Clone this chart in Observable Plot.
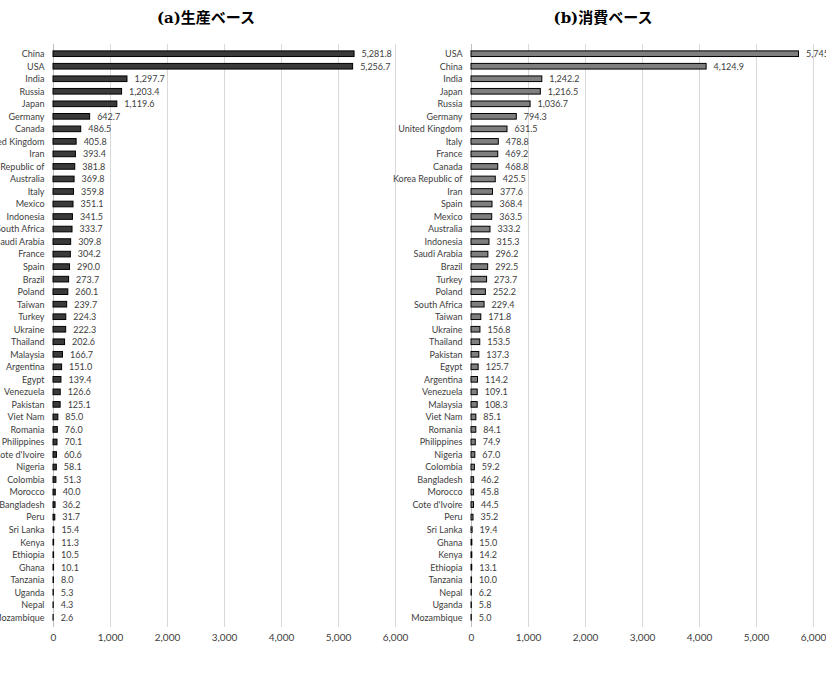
<!DOCTYPE html>
<html>
<head>
<meta charset="utf-8">
<script src="https://cdn.jsdelivr.net/npm/d3@7"></script>
<script src="https://cdn.jsdelivr.net/npm/@observablehq/plot@0.6"></script>
<style>
  html, body { margin: 0; padding: 0; background: #fff; overflow: hidden; }
  #wrap { position: relative; width: 826px; height: 675px; overflow: hidden; }
  .title { position: absolute; top: 6px; font-family: "DejaVu Serif", "Noto Sans CJK JP", serif; font-weight: bold; font-size: 15px; color: #000; transform: translateX(-50%); white-space: nowrap; }
  .panel { position: absolute; top: 30px; }
</style>
</head>
<body>
<div id="wrap">
  <div class="title" style="left:206px">(a)生産ベース</div>
  <div class="title" style="left:603px">(b)消費ベース</div>
  <div class="panel" id="left" style="left:0px"></div>
  <div class="panel" id="right" style="left:380px"></div>
</div>
<script>
const prodCountries = ["China","USA","India","Russia","Japan","Germany","Canada","United Kingdom","Iran","Korea Republic of","Australia","Italy","Mexico","Indonesia","South Africa","Saudi Arabia","France","Spain","Brazil","Poland","Taiwan","Turkey","Ukraine","Thailand","Malaysia","Argentina","Egypt","Venezuela","Pakistan","Viet Nam","Romania","Philippines","Cote d'Ivoire","Nigeria","Colombia","Morocco","Bangladesh","Peru","Sri Lanka","Kenya","Ethiopia","Ghana","Tanzania","Uganda","Nepal","Mozambique"];
const prodValues = [5281.8,5256.7,1297.7,1203.4,1119.6,642.7,486.5,405.8,393.4,381.8,369.8,359.8,351.1,341.5,333.7,309.8,304.2,290.0,273.7,260.1,239.7,224.3,222.3,202.6,166.7,151.0,139.4,126.6,125.1,85.0,76.0,70.1,60.6,58.1,51.3,40.0,36.2,31.7,15.4,11.3,10.5,10.1,8.0,5.3,4.3,2.6];

const consCountries = ["USA","China","India","Japan","Russia","Germany","United Kingdom","Italy","France","Canada","Korea Republic of","Iran","Spain","Mexico","Australia","Indonesia","Saudi Arabia","Brazil","Turkey","Poland","South Africa","Taiwan","Ukraine","Thailand","Pakistan","Egypt","Argentina","Venezuela","Malaysia","Viet Nam","Romania","Philippines","Nigeria","Colombia","Bangladesh","Morocco","Cote d'Ivoire","Peru","Sri Lanka","Ghana","Kenya","Ethiopia","Tanzania","Nepal","Uganda","Mozambique"];
const consValues = [5745.4,4124.9,1242.2,1216.5,1036.7,794.3,631.5,478.8,469.2,468.8,425.5,377.6,368.4,363.5,333.2,315.3,296.2,292.5,273.7,252.2,229.4,171.8,156.8,153.5,137.3,125.7,114.2,109.1,108.3,85.1,84.1,74.9,67.0,59.2,46.2,45.8,44.5,35.2,19.4,15.0,14.2,13.1,10.0,6.2,5.8,5.0];

const xTicks = [0,1000,2000,3000,4000,5000,6000];

function panel(countries, values, fill, width, marginLeft, marginRight) {
  const data = countries.map((c, i) => ({country: c, value: values[i]}));
  return Plot.plot({
    width,
    height: 627,
    marginLeft,
    marginRight,
    marginTop: 14,
    marginBottom: 30,
    style: {fontFamily: "Lato, 'Open Sans', sans-serif", fontSize: "9px", color: "#404040", background: "transparent", overflow: "hidden"},
    x: {domain: [0, 6000], ticks: xTicks},
    y: {domain: countries, padding: 0.55, round: false},
    marks: [
      Plot.gridX(xTicks, {stroke: "#d9d9d9", strokeOpacity: 1}),
      Plot.ruleX([0], {stroke: "#bfbfbf"}),
      Plot.barX(data, {x: "value", y: "country", fill, stroke: "#000", strokeWidth: 1}),
      Plot.text(data, {x: "value", y: "country", text: d => d3.format(",.1f")(d.value), textAnchor: "start", dx: 7, fill: "#404040"}),
      Plot.axisY({tickSize: 0, tickPadding: 9, label: null, fill: "#404040"}),
      Plot.axisX(xTicks, {tickSize: 0, tickPadding: 6, tickFormat: d3.format(","), label: null, fill: "#404040", fontSize: "10px"})
    ]
  });
}

document.getElementById("left").appendChild(panel(prodCountries, prodValues, "#3a3a3a", 413, 53, 18));
document.getElementById("right").appendChild(panel(consCountries, consValues, "#7f7f7f", 446, 91, 13));
</script>
</body>
</html>
